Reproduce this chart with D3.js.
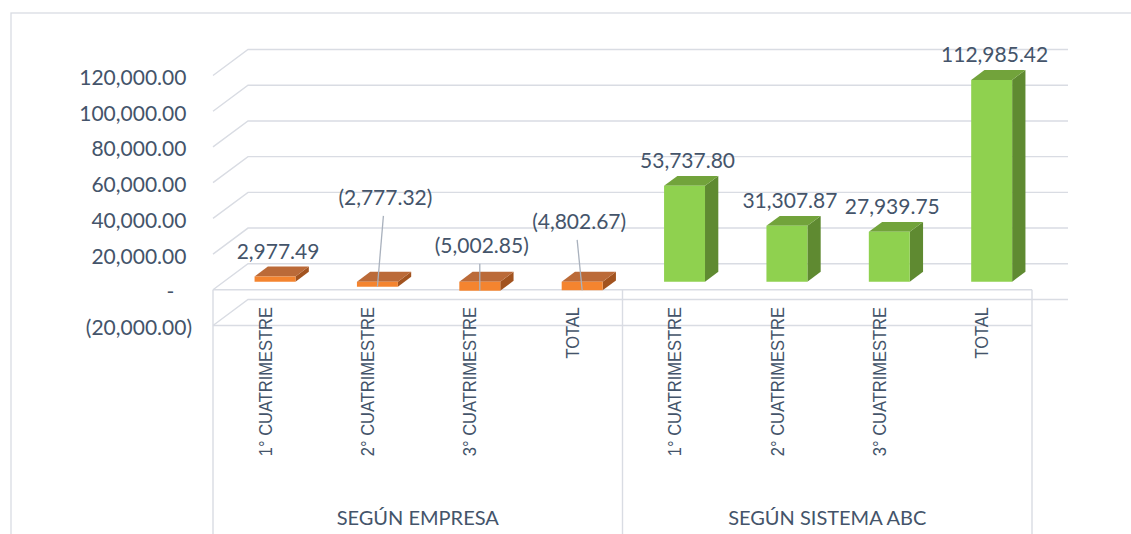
<!DOCTYPE html>
<html><head><meta charset="utf-8">
<script src="https://cdn.jsdelivr.net/npm/d3@7"></script>
<style>body{margin:0;background:#fff} svg{display:block}</style>
</head><body><svg id="c" width="1131" height="534"></svg>
<script>
// ---------- data ----------
const groups = ["SEGÚN EMPRESA", "SEGÚN SISTEMA ABC"];
const categories = ["1° CUATRIMESTRE", "2° CUATRIMESTRE", "3° CUATRIMESTRE", "TOTAL"];
const empresaValues = [2977.49, -2777.32, -5002.85, -4802.67];
const abcValues = [53737.80, 31307.87, 27939.75, 112985.42];
const yTicks = [-20000, 0, 20000, 40000, 60000, 80000, 100000, 120000];

// ---------- layout / style ----------
const W = 1131, H = 534;
const TXT = "#44546A", GRID = "#D9DCE3";
const NUMFONT = "Lato, 'Open Sans', sans-serif";
const DX = 35, DY = -26;           // depth projection of the 3D box
const D0 = 0.31, D1 = 0.69;        // bar depth span
const colors = [
  {front: "#F4842F", top: "#BB6A38", side: "#A2531F"},
  {front: "#8FD14F", top: "#72A33B", side: "#5F8A31"}
];
// manual label placements for the negative (leader-lined) labels: [dx, dy]
const labelNudge = {"0|1": [5, -59], "0|2": [-1, -11], "0|3": [-6, -35]};

const rows = [];
[empresaValues, abcValues].forEach((vals, g) =>
  vals.forEach((v, i) => rows.push({g, i, key: g + "|" + i, value: v})));

const svg = d3.select("#c");
svg.append("rect").attr("x", 11).attr("y", 13).attr("width", W).attr("height", H)
  .attr("fill", "#fff").attr("stroke", GRID).attr("stroke-width", 1.3);

const x = d3.scaleBand().domain(rows.map(r => r.key)).range([213, 1032])
  .paddingInner(0.6).paddingOuter(0.3);
const y = d3.scaleLinear().domain([-20000, 120000]).range([325.5, 75.5]);
const pt = (px, v, d) => [px + d * DX, y(v) + d * DY];
const step = x.step();
const x0 = 213, x1 = 1032;

// gridlines: back wall + side wall
const grid = svg.append("g").attr("stroke", GRID).attr("stroke-width", 1.4).attr("fill", "none");
yTicks.forEach(t => {
  const a = pt(x0, t, 0), b = pt(x0, t, 1), c = pt(x1 + 1, t, 1);
  grid.append("path").attr("d", d3.line()([a, b, c]));
});
// category table (front)
grid.append("line").attr("x1", x0).attr("x2", x1).attr("y1", y(0)).attr("y2", y(0));
grid.append("line").attr("x1", x0).attr("x2", x1).attr("y1", y(-20000)).attr("y2", y(-20000));
[x0, x0 + 4 * step, x1].forEach(vx =>
  grid.append("line").attr("x1", vx).attr("x2", vx).attr("y1", y(0)).attr("y2", H));

// y axis labels (accounting format)
const f2 = d3.format(",.2f");
const acct = v => v > 0 ? f2(v) : v < 0 ? "(" + f2(-v) + ")" : "-";
const yl = svg.append("g").attr("font-family", NUMFONT).attr("font-size", 21).attr("fill", TXT)
  .attr("text-anchor", "end");
yTicks.forEach(t => {
  const tx = yl.append("text").attr("x", 192).attr("y", y(t) + 9.5);
  tx.append("tspan").text(acct(t));
  if (t > 0) tx.append("tspan").attr("fill-opacity", 0).text(")");
  if (t === 0) tx.append("tspan").attr("fill-opacity", 0).text("0)");
});

// bars
const bars = svg.append("g");
rows.forEach(r => {
  const c = colors[r.g];
  const bx0 = x(r.key), bx1 = bx0 + x.bandwidth();
  const top = Math.max(r.value, 0), bot = Math.min(r.value, 0);
  const poly = pts => "M" + pts.map(p => p.join(",")).join("L") + "Z";
  bars.append("path").attr("fill", c.side)
    .attr("d", poly([pt(bx1, top, D0), pt(bx1, bot, D0), pt(bx1, bot, D1), pt(bx1, top, D1)]));
  bars.append("path").attr("fill", c.top)
    .attr("d", poly([pt(bx0, top, D0), pt(bx1, top, D0), pt(bx1, top, D1), pt(bx0, top, D1)]));
  bars.append("path").attr("fill", c.front)
    .attr("d", poly([pt(bx0, top, D0), pt(bx1, top, D0), pt(bx1, bot, D0), pt(bx0, bot, D0)]));
});

// data labels
const dl = svg.append("g").attr("font-family", NUMFONT).attr("font-size", 21).attr("fill", TXT)
  .attr("text-anchor", "middle");
rows.forEach(r => {
  const bx0 = x(r.key), bw = x.bandwidth();
  const cxFront = bx0 + bw / 2 + D0 * DX;
  const top = Math.max(r.value, 0);
  const n = labelNudge[r.key] || [0, 0];
  const lx = cxFront + 3 + n[0];
  const ly = pt(bx0, top, D1)[1] - 8 + n[1];
  if (labelNudge[r.key]) {
    const bottom = pt(bx0, Math.min(r.value, 0), D0)[1];
    svg.append("line").attr("x1", lx - 2).attr("y1", ly + 11).attr("x2", cxFront).attr("y2", bottom)
      .attr("stroke", "#A9B1BD").attr("stroke-width", 1.3);
  }
  dl.append("text").attr("x", lx).attr("y", ly).text(acct(r.value));
});

// category labels (rotated)
const cl = svg.append("g").attr("font-family", "'Liberation Sans', Arial, sans-serif")
  .attr("font-size", 16.5).attr("fill", TXT).attr("text-anchor", "end");
rows.forEach(r => {
  const cx = x(r.key) + x.bandwidth() / 2;
  cl.append("text").attr("transform", `translate(${cx + 7.5},307) rotate(-90) scale(1,1.15)`)
    .text(categories[r.i]);
});

// group labels
const gl = svg.append("g").attr("font-family", NUMFONT).attr("font-size", 20).attr("fill", TXT)
  .attr("text-anchor", "middle");
groups.forEach((g, gi) => {
  const a = x0 + gi * 4 * step, b = a + 4 * step;
  gl.append("text").attr("x", (a + b) / 2).attr("y", 525).text(g);
});
</script></body></html>
